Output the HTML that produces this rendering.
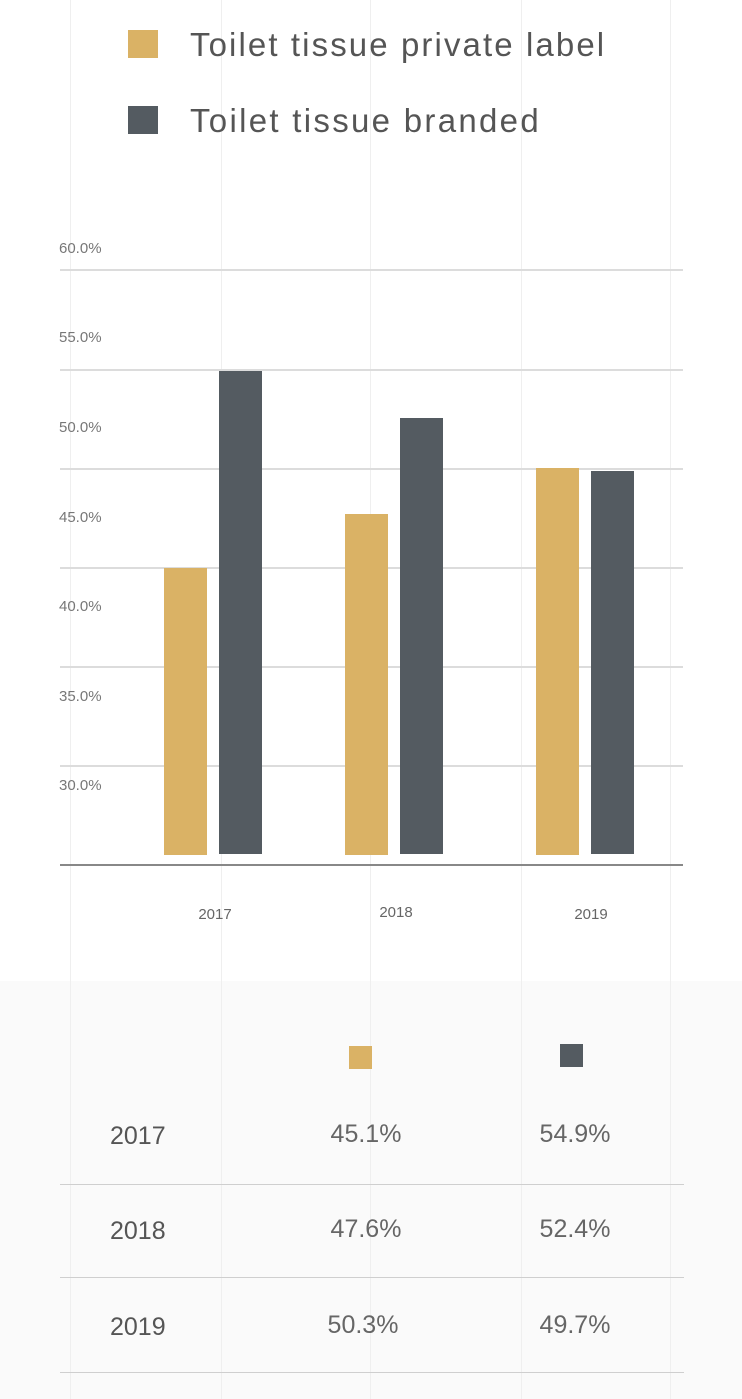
<!DOCTYPE html>
<html><head><style>
body{margin:0;width:742px;height:1399px;background:#fff;position:relative;overflow:hidden;font-family:"Liberation Sans",sans-serif;}
.a{position:absolute}
.vl{position:absolute;top:0;height:1399px;width:1px;background:#efefef}
.gl{position:absolute;left:60px;width:623px;height:2px;background:#dcdcdc}
.yl{position:absolute;left:59px;font-size:15px;color:#777}
.b{position:absolute;width:43px}
.pl{background:#dab265}.br{background:#545b61}
.xl{position:absolute;font-size:15px;color:#666;width:60px;text-align:center}
.rt{position:absolute;font-size:25px;color:#555}
.c{position:absolute;font-size:25px;color:#666;width:120px;text-align:center}
.sep{position:absolute;left:60px;width:624px;height:1px;background:#cfcfcf}
</style></head><body>
<div class="a" style="left:0;top:981px;width:742px;height:418px;background:#fafafa"></div>
<div class="vl" style="left:70px"></div><div class="vl" style="left:221px"></div><div class="vl" style="left:370px"></div><div class="vl" style="left:521px"></div><div class="vl" style="left:670px"></div>
<div class="a pl" style="left:128px;top:30px;width:30px;height:28px"></div>
<div class="a" style="left:190px;top:26px;font-size:33px;color:#555;letter-spacing:2.1px">Toilet tissue private label</div>
<div class="a br" style="left:128px;top:106px;width:30px;height:28px"></div>
<div class="a" style="left:190px;top:102px;font-size:33px;color:#555;letter-spacing:2.3px">Toilet tissue branded</div>
<div class="gl" style="top:269px"></div><div class="gl" style="top:369px"></div><div class="gl" style="top:468px"></div><div class="gl" style="top:567px"></div><div class="gl" style="top:666px"></div><div class="gl" style="top:765px"></div>
<div class="yl" style="top:240px">60.0%</div><div class="yl" style="top:329px">55.0%</div><div class="yl" style="top:419px">50.0%</div><div class="yl" style="top:509px">45.0%</div><div class="yl" style="top:598px">40.0%</div><div class="yl" style="top:688px">35.0%</div><div class="yl" style="top:777px">30.0%</div>
<div class="b pl" style="left:164px;top:568px;height:287px"></div>
<div class="b br" style="left:219px;top:371px;height:483px"></div>
<div class="b pl" style="left:345px;top:514px;height:341px"></div>
<div class="b br" style="left:400px;top:418px;height:436px"></div>
<div class="b pl" style="left:536px;top:468px;height:387px"></div>
<div class="b br" style="left:591px;top:471px;height:383px"></div>
<div class="a" style="left:60px;top:864px;width:623px;height:2px;background:#888"></div>
<div class="xl" style="left:185px;top:906px">2017</div><div class="xl" style="left:366px;top:904px">2018</div><div class="xl" style="left:561px;top:906px">2019</div>
<div class="a pl" style="left:349px;top:1046px;width:23px;height:23px"></div>
<div class="a br" style="left:560px;top:1044px;width:23px;height:23px"></div>
<div class="rt" style="left:110px;top:1122px">2017</div><div class="c" style="left:306px;top:1120px">45.1%</div><div class="c" style="left:515px;top:1120px">54.9%</div>
<div class="sep" style="top:1184px"></div>
<div class="rt" style="left:110px;top:1217px">2018</div><div class="c" style="left:306px;top:1215px">47.6%</div><div class="c" style="left:515px;top:1215px">52.4%</div>
<div class="sep" style="top:1277px"></div>
<div class="rt" style="left:110px;top:1313px">2019</div><div class="c" style="left:303px;top:1311px">50.3%</div><div class="c" style="left:515px;top:1311px">49.7%</div>
<div class="sep" style="top:1372px"></div>
</body></html>
